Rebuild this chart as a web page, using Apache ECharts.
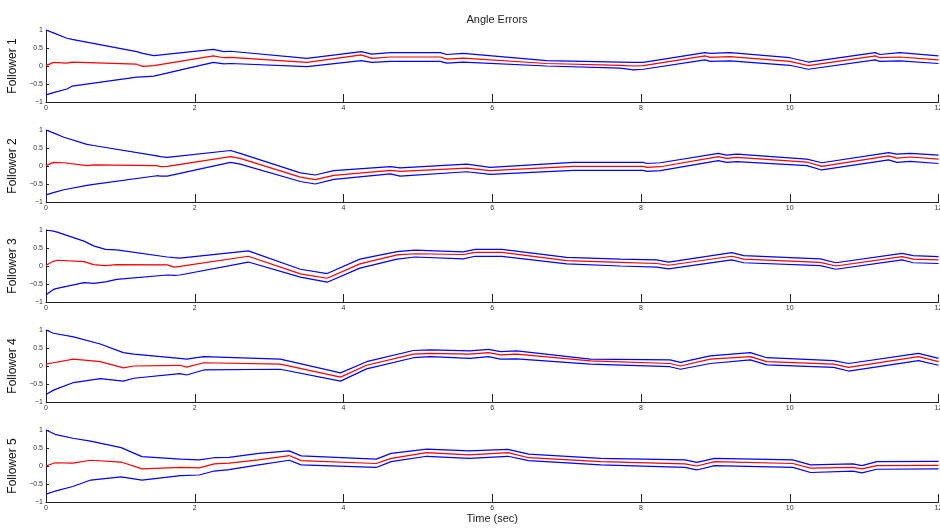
<!DOCTYPE html>
<html>
<head>
<meta charset="utf-8">
<script src="https://cdn.jsdelivr.net/npm/echarts@6/dist/echarts.min.js"></script>
<style>html,body{margin:0;padding:0;background:#fff}#c{width:940px;height:528px}</style>
</head>
<body>
<div id="c"></div>
<script>
// ---- data (time in seconds, angle errors) ----
const f1Time  = [0,0.1,0.28,0.35,1.22,1.3,1.45,2.25,2.39,2.48,3.51,4.24,4.38,4.63,5.30,5.39,5.61,6.73,7.72,7.90,8.03,8.86,8.93,9.20,10.0,10.25,11.15,11.21,11.48,12.0];
const f1Upper = [1.0,0.92,0.77,0.74,0.40,0.35,0.29,0.46,0.40,0.41,0.21,0.40,0.33,0.37,0.37,0.32,0.35,0.15,0.11,0.10,0.10,0.37,0.35,0.37,0.23,0.11,0.37,0.32,0.37,0.28];
const f1Error = [0.01,0.10,0.08,0.11,0.05,-0.01,0.01,0.28,0.23,0.24,0.10,0.31,0.21,0.25,0.25,0.19,0.22,0.07,0.02,0.0,0.01,0.28,0.24,0.26,0.13,0.01,0.28,0.23,0.25,0.17];
const f1Lower = [-0.80,-0.74,-0.64,-0.56,-0.31,-0.30,-0.28,0.10,0.06,0.07,-0.02,0.15,0.10,0.13,0.13,0.08,0.11,0.0,-0.06,-0.11,-0.09,0.17,0.13,0.14,0.02,-0.09,0.17,0.13,0.14,0.07];

const f2Time  = [0,0.1,0.24,0.55,0.64,1.49,1.54,1.63,2.48,2.61,3.42,3.62,3.87,4.63,4.76,5.66,5.97,7.09,7.72,8.03,8.08,8.26,9.04,9.15,9.29,10.23,10.43,11.33,11.44,11.62,12.0];
const f2Upper = [1.0,0.92,0.80,0.60,0.57,0.28,0.26,0.24,0.43,0.35,-0.19,-0.25,-0.13,-0.02,-0.05,0.05,-0.04,0.10,0.10,0.10,0.07,0.09,0.35,0.30,0.33,0.19,0.09,0.37,0.33,0.35,0.30];
const f2Error = [0.01,0.10,0.09,0.01,0.03,0.01,-0.02,-0.01,0.26,0.21,-0.31,-0.38,-0.26,-0.12,-0.15,-0.06,-0.13,-0.01,-0.01,-0.01,-0.04,-0.02,0.26,0.21,0.24,0.11,-0.01,0.28,0.22,0.25,0.19];
const f2Lower = [-0.80,-0.74,-0.66,-0.54,-0.51,-0.27,-0.28,-0.28,0.10,0.05,-0.43,-0.50,-0.37,-0.22,-0.28,-0.16,-0.23,-0.12,-0.12,-0.12,-0.15,-0.13,0.15,0.10,0.12,0.01,-0.11,0.17,0.10,0.13,0.07];

const f3Time  = [0,0.1,0.15,0.51,0.64,0.80,0.95,1.63,1.72,1.80,2.72,3.42,3.78,4.22,4.72,4.96,5.61,5.77,6.13,7.0,7.72,8.21,8.37,9.22,9.38,10.41,10.62,11.51,11.66,12.0];
const f3Upper = [1.0,0.97,0.94,0.69,0.56,0.46,0.45,0.25,0.23,0.22,0.42,-0.09,-0.21,0.19,0.40,0.44,0.39,0.46,0.46,0.24,0.19,0.17,0.11,0.37,0.29,0.20,0.09,0.35,0.29,0.26];
const f3Error = [0.02,0.13,0.16,0.12,0.04,0.01,0.04,0.03,-0.03,-0.01,0.27,-0.22,-0.34,0.06,0.31,0.34,0.32,0.38,0.38,0.15,0.10,0.07,0.02,0.27,0.19,0.10,0.0,0.26,0.19,0.17];
const f3Lower = [-0.80,-0.65,-0.62,-0.46,-0.48,-0.44,-0.37,-0.25,-0.26,-0.25,0.11,-0.31,-0.45,-0.06,0.19,0.25,0.20,0.27,0.27,0.06,0.0,-0.03,-0.08,0.17,0.09,0.01,-0.09,0.17,0.09,0.07];

const f4Time  = [0,0.10,0.37,0.73,1.04,1.18,1.80,1.89,2.12,3.15,3.96,4.31,4.94,5.17,5.70,5.95,6.11,6.33,7.32,8.39,8.53,8.93,9.47,9.69,10.59,10.79,11.73,12.0];
const f4Upper = [1.0,0.91,0.81,0.61,0.37,0.33,0.21,0.19,0.26,0.19,-0.19,0.12,0.43,0.45,0.42,0.46,0.40,0.42,0.19,0.17,0.10,0.28,0.37,0.23,0.15,0.07,0.35,0.21];
const f4Error = [0.05,0.09,0.19,0.12,-0.05,0.0,0.02,-0.03,0.09,0.05,-0.31,0.02,0.33,0.35,0.33,0.37,0.31,0.33,0.14,0.07,0.0,0.19,0.26,0.12,0.05,-0.04,0.26,0.12];
const f4Lower = [-0.79,-0.67,-0.46,-0.35,-0.42,-0.34,-0.21,-0.25,-0.11,-0.09,-0.42,-0.08,0.23,0.26,0.21,0.26,0.19,0.20,0.05,-0.02,-0.09,0.07,0.17,0.03,-0.04,-0.14,0.15,0.02];

const f5Time  = [0,0.12,0.36,0.60,1.01,1.29,1.81,2.06,2.26,2.46,2.86,3.27,3.43,4.44,4.64,5.12,5.69,6.21,6.49,7.46,8.59,8.75,8.99,10.04,10.28,10.85,10.97,11.17,12.0];
const f5Upper = [1.0,0.88,0.77,0.69,0.51,0.26,0.19,0.17,0.23,0.24,0.35,0.42,0.28,0.19,0.35,0.47,0.42,0.46,0.33,0.21,0.17,0.10,0.21,0.17,0.03,0.06,0.01,0.12,0.13];
const f5Error = [0.0,0.09,0.08,0.16,0.11,-0.08,-0.04,-0.05,0.06,0.08,0.17,0.29,0.15,0.07,0.21,0.37,0.31,0.37,0.23,0.12,0.06,0.0,0.12,0.07,-0.06,-0.04,-0.08,0.01,0.02];
const f5Lower = [-0.78,-0.70,-0.57,-0.39,-0.30,-0.39,-0.27,-0.25,-0.14,-0.10,0.03,0.16,0.03,-0.04,0.12,0.27,0.21,0.27,0.15,0.03,-0.04,-0.11,0.01,-0.04,-0.18,-0.14,-0.19,-0.09,-0.08];

const followerNames = ['Follower 1','Follower 2','Follower 3','Follower 4','Follower 5'];
const xTickLabels = ['0','2','4','6','8','10','12'];
const yTickLabels = {'1':'1','0.5':'0.5','0':'0','-0.5':'\u22120.5','-1':'\u22121'};
const chartTitle = 'Angle Errors';
const xAxisTitle = 'Time (sec)';

const followers = [
  [f1Time,f1Upper,f1Error,f1Lower],
  [f2Time,f2Upper,f2Error,f2Lower],
  [f3Time,f3Upper,f3Error,f3Lower],
  [f4Time,f4Upper,f4Error,f4Lower],
  [f5Time,f5Upper,f5Error,f5Lower]
];

const FONT = '"Liberation Sans", Arial, Helvetica, sans-serif';
const zip = (t, v) => t.map((x, i) => [x, v[i]]);

const grids = [], xAxes = [], yAxes = [], series = [];
followers.forEach((f, i) => {
  grids.push({left: 46, right: 1.5, top: 30 + 100 * i, height: 72,
    containLabel: false, outerBoundsMode: 'none'});
  xAxes.push({
    type: 'value', gridIndex: i, min: 0, max: 12, interval: 2,
    axisLine: {show: true, onZero: false, lineStyle: {color: '#222', width: 1}},
    axisTick: {show: true, inside: true, length: 8, lineStyle: {color: '#222', width: 1}},
    axisLabel: {fontSize: 7, color: '#333', margin: 3, fontFamily: FONT,
      hideOverlap: false, showMaxLabel: true, showMinLabel: true,
      formatter: v => xTickLabels[Math.round(v / 2)]},
    splitLine: {show: false},
    name: i === 4 ? xAxisTitle : '', nameLocation: 'middle', nameGap: 11,
    nameTextStyle: {fontSize: 11, color: '#222', fontFamily: FONT}
  });
  yAxes.push({
    type: 'value', gridIndex: i, min: -1, max: 1, interval: 0.5,
    axisLine: {show: true, lineStyle: {color: '#222', width: 1}},
    axisTick: {show: true, inside: true, length: 3, lineStyle: {color: '#222'}},
    axisLabel: {fontSize: 7, color: '#333', margin: 3, fontFamily: FONT,
      formatter: v => yTickLabels[String(v)]},
    splitLine: {show: false},
    name: followerNames[i], nameLocation: 'middle', nameGap: 25, nameRotate: 90,
    nameTextStyle: {fontSize: 12, color: '#111', fontFamily: FONT}
  });
  const [t, up, err, lo] = f;
  [[up,'#0000ff'],[lo,'#0000ff'],[err,'#ff0000']].forEach(([v, c]) => {
    series.push({
      type: 'line', xAxisIndex: i, yAxisIndex: i, data: zip(t, v),
      showSymbol: false, symbol: 'none', animation: false, silent: true,
      lineStyle: {color: c, width: 1.2}
    });
  });
});

const chart = echarts.init(document.getElementById('c'), null, {renderer: 'canvas'});
chart.setOption({
  animation: false,
  backgroundColor: '#ffffff',
  textStyle: {fontFamily: FONT},
  title: {text: chartTitle, left: 492, top: 9, textAlign: 'center',
    textStyle: {fontSize: 11, fontWeight: 'normal', color: '#222', fontFamily: FONT}},
  grid: grids, xAxis: xAxes, yAxis: yAxes, series: series
});
</script>
</body>
</html>
